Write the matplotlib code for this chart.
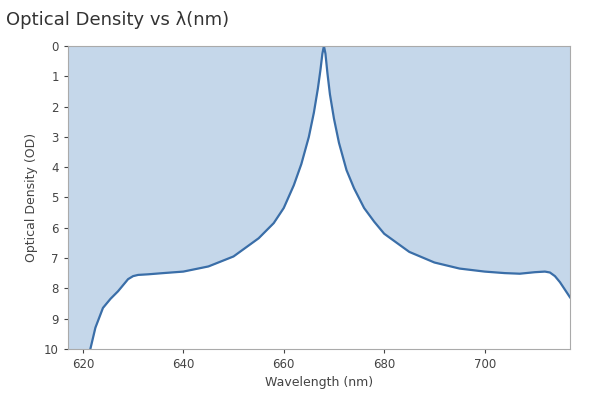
import matplotlib
matplotlib.use("Agg")
import matplotlib.pyplot as plt

wavelength = [617, 619, 620.5, 621.5, 622.5, 624, 625.5, 627, 628, 629, 630, 631, 633, 636, 640, 645, 650, 655, 658, 660, 662, 663.5, 665, 666, 666.8, 667.3, 667.7, 668, 668.3, 668.7, 669.2, 670, 671, 672.5, 674, 676, 678, 680, 685, 690, 695, 700, 704, 707, 710, 712, 713, 714, 715, 716, 717]
od = [13, 12, 10.8, 10, 9.3, 8.65, 8.35, 8.1, 7.9, 7.7, 7.6, 7.56, 7.54, 7.5, 7.45, 7.28, 6.95, 6.35, 5.85, 5.35, 4.6, 3.9, 3.0, 2.2, 1.4, 0.8, 0.25, 0.0, 0.25, 0.9, 1.6, 2.4, 3.2, 4.1, 4.7, 5.35, 5.8, 6.2, 6.8, 7.15, 7.35, 7.45, 7.5, 7.52, 7.47, 7.45, 7.48, 7.6, 7.8, 8.05, 8.3]

fig, ax = plt.subplots(figsize=(6, 4), dpi=100)
fig.subplots_adjust(left=0.113, right=0.95, top=0.885, bottom=0.128)
ax.fill_between(wavelength, od, 0, color="#c5d7ea", linewidth=0)
ax.plot(wavelength, od, color="#3a6ea8", linewidth=1.6)
ax.set_xlim(617, 717)
ax.set_ylim(10, 0)
ax.set_yticks(range(0, 11))
ax.set_xticks([620, 640, 660, 680, 700])
ax.set_xlabel("Wavelength (nm)", fontsize=9, color="#444")
ax.set_ylabel("Optical Density (OD)", fontsize=9, color="#444")
ax.tick_params(labelsize=8.5, colors="#444", length=3)
for s in ax.spines.values():
    s.set_color("#aaaaaa")
fig.text(0.01, 0.95, "Optical Density vs λ(nm)", fontsize=13, color="#333", va="center")
fig.savefig("out.png")
